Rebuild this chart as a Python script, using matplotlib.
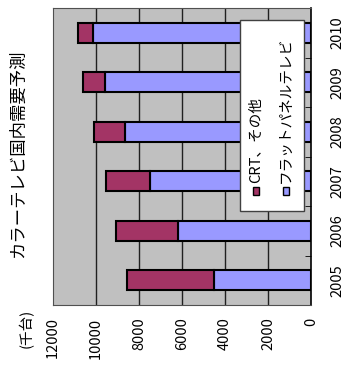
import numpy as np
import matplotlib
matplotlib.use('Agg')
import matplotlib.pyplot as plt
from matplotlib.patches import Rectangle

plt.rcParams['font.family'] = ['Noto Sans CJK JP', 'DejaVu Sans']

# demand forecast, thousand units
years = ['2005', '2006', '2007', '2008', '2009', '2010']
flat_panel = [4500, 6200, 7500, 8650, 9600, 10150]
crt_other = [4050, 2850, 2050, 1450, 1000, 700]
value_ticks = [0, 2000, 4000, 6000, 8000, 10000, 12000]

title = 'カラーテレビ国内需要予測'
unit = '(千台)'
name_crt = 'CRT、その他'
name_flat = 'フラットパネルテレビ'

col_crt = '#a33465'
col_flat = '#9999ff'

fig = plt.figure(figsize=(3.5, 3.72), dpi=100)
# chart is laid on its side: values run right to left, years bottom to top
ax = fig.add_axes([53 / 350, 67 / 372, 258 / 350, 297 / 372])
ax.set_facecolor('#c0c0c0')

y = np.arange(len(years))
ax.barh(y, flat_panel, height=0.4, color=col_flat, edgecolor='black', linewidth=1.5, zorder=3)
ax.barh(y, crt_other, left=flat_panel, height=0.4, color=col_crt, edgecolor='black', linewidth=1.5, zorder=3)

ax.set_xlim(12000, 0)
ax.set_ylim(-0.5, len(years) - 0.5)

ax.set_xticks(value_ticks)
ax.set_xticklabels([str(v) for v in value_ticks], rotation=90, fontsize=10.5)
ax.tick_params(axis='x', length=0, pad=9)
for v in value_ticks[1:-1]:
    ax.axvline(v, color='#202020', linewidth=1, zorder=1)

ax.yaxis.tick_right()
ax.set_yticks(y)
ax.set_yticklabels(years, rotation=90, va='center', fontsize=10.5)
ax.tick_params(axis='y', length=0, pad=14)
ax.set_yticks(np.arange(-0.5, len(years), 1.0), minor=True)
ax.tick_params(axis='y', which='minor', direction='in', length=4, color='black', right=True, left=False)

for side in ['left', 'top', 'bottom']:
    ax.spines[side].set_color('#505050')
ax.spines['right'].set_color('black')
ax.spines['right'].set_linewidth(1.2)

# legend box drawn by hand so its text can stand vertical
ax.add_patch(Rectangle((0.725, 0.316), 0.248, 0.644, transform=ax.transAxes,
                       facecolor='white', edgecolor='#404040', linewidth=1, zorder=5))
for xpos, col, name in [(0.787, col_crt, name_crt), (0.903, col_flat, name_flat)]:
    ax.add_patch(Rectangle((xpos - 0.013, 0.372), 0.026, 0.024, transform=ax.transAxes,
                           facecolor=col, edgecolor='black', linewidth=1, zorder=6))
    ax.text(xpos, 0.41, name, transform=ax.transAxes, rotation=90,
            ha='center', va='bottom', fontsize=10.5, zorder=6)

fig.text(18 / 350, 1 - 154 / 372, title, rotation=90, ha='center', va='center', fontsize=12.5)
fig.text(26 / 350, 1 - 328 / 372, unit, rotation=90, ha='center', va='center', fontsize=10.5)

fig.savefig('out.png', dpi=100, facecolor='white')
